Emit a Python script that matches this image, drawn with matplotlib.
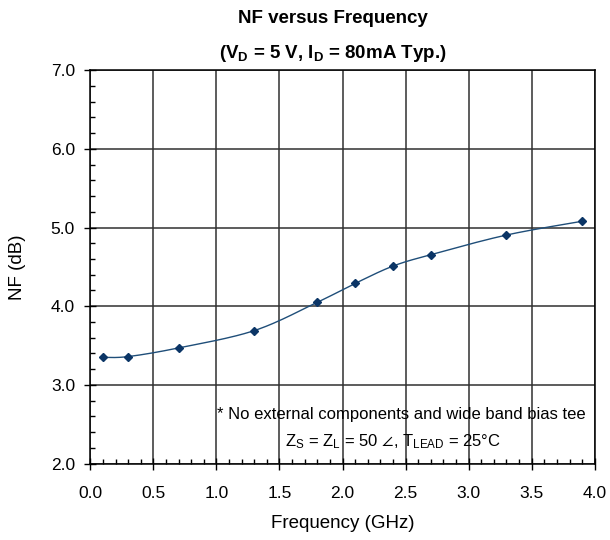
import numpy as np
import matplotlib
matplotlib.use("Agg")
import matplotlib.pyplot as plt
from matplotlib.ticker import MultipleLocator

plt.rcParams['font.family'] = ['Liberation Sans', 'DejaVu Sans']
plt.rcParams['mathtext.fontset'] = 'custom'
plt.rcParams['mathtext.rm'] = 'Liberation Sans'
plt.rcParams['mathtext.bf'] = 'Liberation Sans:bold'
plt.rcParams['mathtext.fallback'] = 'stixsans'
plt.rcParams['mathtext.default'] = 'regular'

freq_ghz = [0.1, 0.3, 0.7, 1.3, 1.8, 2.1, 2.4, 2.7, 3.3, 3.9]
nf_db = [3.35, 3.36, 3.47, 3.69, 4.05, 4.29, 4.51, 4.655, 4.905, 5.08]
x_ticks = [0.0, 0.5, 1.0, 1.5, 2.0, 2.5, 3.0, 3.5, 4.0]
y_ticks = [2.0, 3.0, 4.0, 5.0, 6.0, 7.0]


def catmull_rom(xs, ys, n=30):
    xs = np.asarray(xs, float)
    ys = np.asarray(ys, float)
    px = np.concatenate([[xs[0]], xs, [xs[-1]]])
    py = np.concatenate([[ys[0]], ys, [ys[-1]]])
    outx, outy = [], []
    t = np.linspace(0, 1, n)
    for i in range(1, len(px) - 2):
        p0, p1, p2, p3 = [np.array([px[j], py[j]]) for j in (i - 1, i, i + 1, i + 2)]
        m1 = (p2 - p0) / 6.0
        m2 = (p3 - p1) / 6.0
        b0, b1, b2, b3 = p1, p1 + m1, p2 - m2, p2
        for tt in t:
            pt = ((1 - tt) ** 3) * b0 + 3 * ((1 - tt) ** 2) * tt * b1 + 3 * (1 - tt) * tt ** 2 * b2 + tt ** 3 * b3
            outx.append(pt[0])
            outy.append(pt[1])
    return np.array(outx), np.array(outy)


fig = plt.figure(figsize=(6.1, 5.4), dpi=100)
ax = fig.add_axes([0.148, 0.1415, 0.827, 0.7285])

sx, sy = catmull_rom(freq_ghz, nf_db)
ax.plot(sx, sy, color='#1F4E79', lw=1.0, zorder=3)
ax.plot(freq_ghz, nf_db, linestyle='none', marker='D', markersize=4.5,
        color='#0B3566', zorder=4)

ax.set_xlim(0, 4.0)
ax.set_ylim(2.0, 7.0)
ax.set_xticks(x_ticks)
ax.set_yticks(y_ticks)
ax.set_xticklabels([f'{v:.1f}' for v in x_ticks])
ax.set_yticklabels([f'{v:.1f}' for v in y_ticks])
ax.xaxis.set_minor_locator(MultipleLocator(0.1))
ax.yaxis.set_minor_locator(MultipleLocator(0.2))
ax.tick_params(axis='both', which='major', direction='inout', length=8, width=1,
               labelsize=12.5, color='black')
ax.tick_params(axis='x', which='major', pad=12)
ax.tick_params(axis='y', which='major', pad=7)
ax.tick_params(axis='both', which='minor', direction='in', length=3.5, width=1,
               color='black')
ax.grid(True, which='major', color='#303030', lw=1.1)
for s in ax.spines.values():
    s.set_color('black')
    s.set_linewidth(1.1)

ax.set_xlabel('Frequency (GHz)', fontsize=13.5, labelpad=10)
ax.set_ylabel('NF (dB)', fontsize=13.5, labelpad=18)

fig.text(0.545, 0.966, 'NF versus Frequency', ha='center', va='center',
         fontsize=13.5, fontweight='bold')
fig.text(0.545, 0.901, r'(V$_\mathbf{D}$ = 5 V, I$_\mathbf{D}$ = 80mA Typ.)',
         ha='center', va='center', fontsize=13.5, fontweight='bold')

ax.text(0.617, 0.124, '* No external components and wide band bias tee',
        transform=ax.transAxes, ha='center', va='center', fontsize=12)
ax.text(0.60, 0.056, r'Z$_S$ = Z$_L$ = 50 $\angle$, T$_{LEAD}$ = 25°C',
        transform=ax.transAxes, ha='center', va='center', fontsize=12)

fig.savefig('out.png', dpi=100)
